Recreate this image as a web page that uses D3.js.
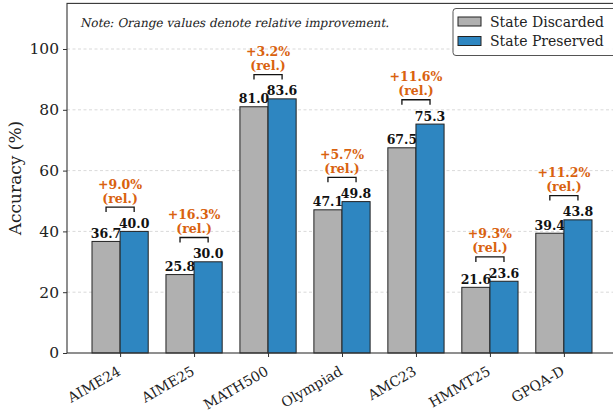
<!DOCTYPE html>
<html><head><meta charset="utf-8">
<script src="https://cdn.jsdelivr.net/npm/d3@7"></script>
<style>body{margin:0;background:#fff}svg{display:block}</style>
</head><body><div id="c"></div>
<script>
const categories = ["AIME24","AIME25","MATH500","Olympiad","AMC23","HMMT25","GPQA-D"];
const discarded = [36.7,25.8,81.0,47.1,67.5,21.6,39.4];
const preserved = [40.0,30.0,83.6,49.8,75.3,23.6,43.8];
const relImprovement = ["+9.0%","+16.3%","+3.2%","+5.7%","+11.6%","+9.3%","+11.2%"];
const yTicks = [0,20,40,60,80,100];
const seriesNames = ["State Discarded","State Preserved"];
const seriesColors = ["#b0b0b0","#2e86c1"];

const FF="DejaVu Serif";
const W=613,H=411;
const svg=d3.select("#c").append("svg").attr("width",W).attr("height",H).attr("font-family",FF);
const x=d3.scaleLinear().domain([-0.718,6.718]).range([67,617]);
const y=d3.scaleLinear().domain([0,115]).range([353,3.4]);
const bw=0.38;

// grid
svg.append("g").selectAll("line").data(yTicks.filter(d=>d>0)).join("line")
  .attr("x1",67).attr("x2",W).attr("y1",d=>y(d)).attr("y2",d=>y(d))
  .attr("stroke","#cfcfcf").attr("stroke-width",0.8).attr("stroke-dasharray","3,2.5");

const series=[discarded,preserved];
series.forEach((vals,s)=>{
  svg.append("g").selectAll("rect").data(vals).join("rect")
    .attr("x",(d,i)=>x(i+(s===0?-bw:0)))
    .attr("width",x(bw)-x(0))
    .attr("y",d=>y(d)).attr("height",d=>y(0)-y(d))
    .attr("fill",seriesColors[s]).attr("stroke","#222").attr("stroke-width",1);
  svg.append("g").selectAll("text").data(vals).join("text")
    .attr("x",(d,i)=>x(i+(s===0?-bw/2:bw/2)))
    .attr("y",d=>y(d)-3.5)
    .attr("text-anchor","middle").attr("font-size",12.5).attr("font-weight","bold")
    .attr("font-family",FF).attr("fill","#111").text(d=>d.toFixed(1));
});

// brackets and relative labels
categories.forEach((c,i)=>{
  const top=Math.max(discarded[i],preserved[i])+8;
  const x1=x(i-bw/2),x2=x(i+bw/2),yb=y(top);
  svg.append("path").attr("d",`M${x1},${yb+5}V${yb}H${x2}V${yb+5}`)
    .attr("fill","none").attr("stroke","#111").attr("stroke-width",1.3);
  svg.append("text").attr("x",x(i)).attr("y",yb-4.5).attr("text-anchor","middle")
    .attr("font-size",12.5).attr("font-weight","bold").attr("font-family",FF)
    .attr("fill","#d9620f").text("(rel.)");
  svg.append("text").attr("x",x(i)).attr("y",yb-18.5).attr("text-anchor","middle")
    .attr("font-size",12.5).attr("font-weight","bold").attr("font-family",FF)
    .attr("fill","#d9620f").text(relImprovement[i]);
});

// axes
const ya=d3.axisLeft(y).tickValues(yTicks).tickSize(4).tickPadding(4);
const gy=svg.append("g").attr("transform","translate(67,0)").call(ya).attr("font-family",FF);
gy.select(".domain").remove();
gy.selectAll("text").attr("font-size",15.5).attr("fill","#222").attr("font-family",FF);
gy.selectAll("line").attr("stroke","#333");

const xa=d3.axisBottom(x).tickValues(d3.range(categories.length)).tickFormat(i=>categories[i]).tickSize(4).tickPadding(4);
const gx=svg.append("g").attr("transform","translate(0,353)").call(xa).attr("font-family",FF);
gx.select(".domain").remove();
gx.selectAll("line").attr("stroke","#333");
gx.selectAll("text").attr("font-size",14).attr("fill","#222").attr("font-family",FF)
  .attr("text-anchor","end").attr("x",0).attr("y",0).attr("dy",0)
  .attr("transform","translate(1,21) rotate(-30)");

// spines
svg.append("rect").attr("x",67).attr("y",3.4).attr("width",617-67).attr("height",353-3.4)
  .attr("fill","none").attr("stroke","#333").attr("stroke-width",1.1);

// y label
svg.append("text").attr("transform","translate(21,178) rotate(-90)").attr("text-anchor","middle")
  .attr("font-size",17).attr("font-family",FF).attr("fill","#222").text("Accuracy (%)");

// note (serif italic simulated with skew)
svg.append("text").attr("transform","translate(80,26.5) skewX(-12)")
  .attr("font-size",12).attr("font-family",FF)
  .attr("fill","#222").text("Note: Orange values denote relative improvement.");

// legend
const lg=svg.append("g");
lg.append("rect").attr("x",453).attr("y",8.5).attr("width",167).attr("height",47).attr("rx",3)
  .attr("fill","#fff").attr("fill-opacity",0.85).attr("stroke","#555").attr("stroke-width",1);
seriesNames.forEach((n,k)=>{
  const yy=17+k*19.5;
  lg.append("rect").attr("x",458).attr("y",yy).attr("width",23).attr("height",9)
    .attr("fill",seriesColors[k]).attr("stroke","#222").attr("stroke-width",1);
  lg.append("text").attr("x",490).attr("y",yy+9.5).attr("font-size",14).attr("font-family",FF)
    .attr("fill","#222").text(n);
});
</script></body></html>
